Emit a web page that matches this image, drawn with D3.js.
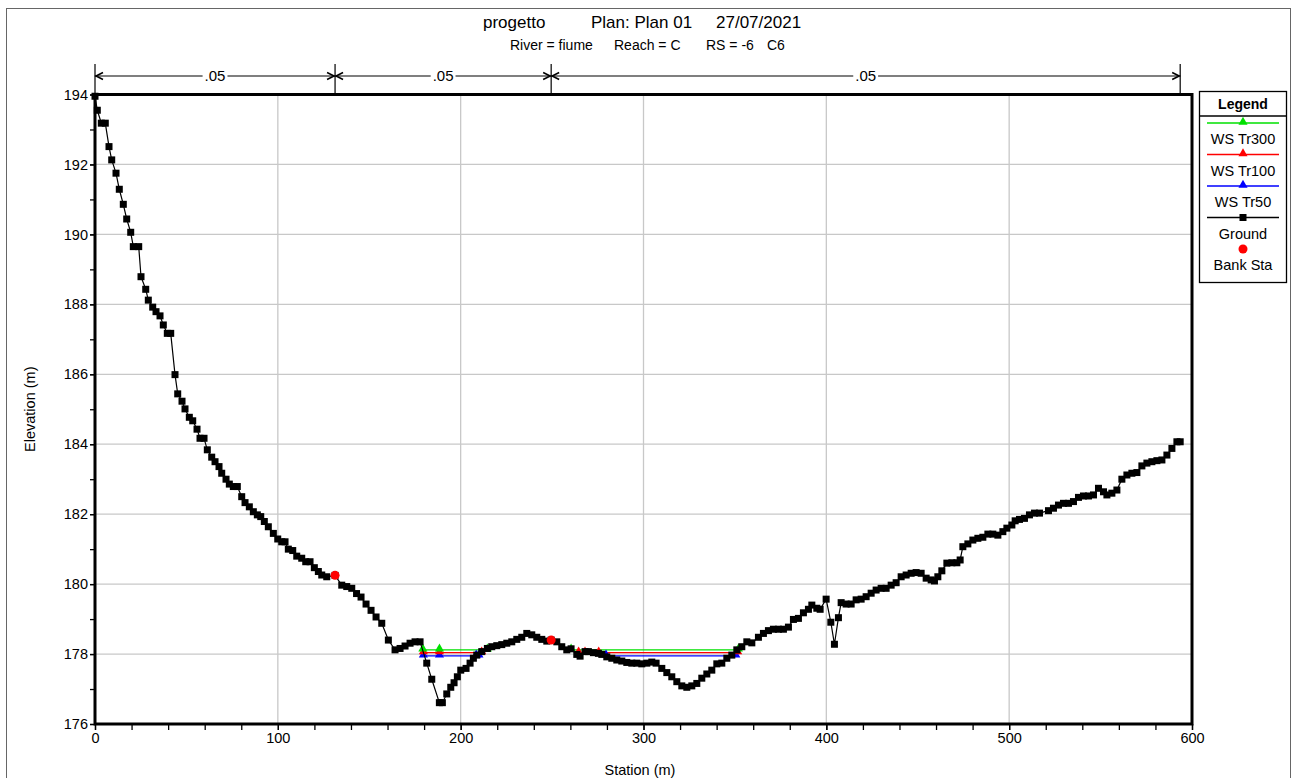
<!DOCTYPE html>
<html><head><meta charset="utf-8">
<script src="https://cdn.jsdelivr.net/npm/d3@7"></script>
<style>
body{margin:0;background:#fff}
svg{display:block}
text{font-family:"Liberation Sans",Arial,sans-serif;fill:#000}
</style>
</head><body>
<svg id="chart" width="1298" height="778"></svg>
<script>
// ---------------- DATA ----------------
const titleParts = ["progetto", "Plan: Plan 01", "27/07/2021"];
const subtitleParts = ["River = fiume", "Reach = C", "RS = -6", "C6"];
const xLabel = "Station (m)";
const yLabel = "Elevation (m)";
const xTicks = [0, 100, 200, 300, 400, 500, 600];
const yTicks = [176, 178, 180, 182, 184, 186, 188, 190, 192, 194];

const groundStation = [
  0, 1.26, 3.45, 5.63, 7.66, 9.14, 11.49, 13.29, 15.48, 17.34, 19.53, 20.95, 23.91, 25.16, 27.74, 29.16,
  31.56, 33.37, 35.56, 37.36, 39.55, 41.41,
  43.76, 45.24, 47.59, 49.23, 51.59, 53.45, 55.8, 57.44, 59.63, 61.43, 63.84, 65.65, 67.83, 69.31, 71.66,
  73.47, 75.66, 77.84, 80.25, 82.06, 84.41, 86.6, 88.79, 90.65, 92.61, 94.8, 97.54, 99.95, 102.13, 103.94,
  105.74, 108.15, 110.34, 113.07, 115.26, 117.61, 119.97, 122.16, 124.02, 126.75, 131.3, 134.96, 137.69, 140.43,
  143.05, 145.51, 148.25, 150.98, 153.72,
  156.84, 160.45, 164.11, 166.85, 169.58, 172.32, 175.05, 177.79, 181.45, 184.19, 188.35, 189.99, 192.4,
  194.58, 196.39, 198.19, 200.05, 202.95, 205.14, 206.95, 208.81, 211.54, 214.61, 217.01, 219.75, 222.48,
  225.22, 227.95, 230.69, 233.42, 236.16, 238.89, 241.63, 244.37, 247.1, 249.5, 252.57, 255.3, 258.04,
  260.39, 263.51, 265.32, 268.05, 269.86, 272.59, 275.33, 277.19, 279.92, 282.66, 285.39, 288.13, 290.86,
  293.6, 296.33, 299.07, 301.81, 304.54, 306.89, 310.01, 312.75, 315.48, 318.22, 320.95, 323.69, 326.42,
  329.16, 331.89, 334.63, 337.36, 340.1, 342.83, 345.57, 348.3, 351.04, 353.77, 356.51,
  359.25, 362.86, 365.59, 368.33, 371.06, 373.8, 376.53, 379.27, 382.0, 384.74, 387.47, 390.21, 392.07,
  394.8, 396.61, 399.89, 402.46, 404.43, 406.62, 408.1, 410.83, 413.57, 416.3, 419.04, 421.77, 424.51,
  427.24, 429.98, 432.71, 435.45, 438.18, 440.92, 443.65, 446.39, 449.12, 451.86, 454.6, 457.33, 459.14,
  460.99, 463.18, 465.92, 468.65, 471.39, 473.19, 474.67, 477.41, 480.14, 482.88, 485.61, 488.35, 491.08,
  493.82, 496.55, 498.74, 501.48, 503.28, 505.64, 508.37, 511.1, 513.84, 516.58,
  521.5, 524.23, 526.97, 529.7, 532.44, 535.17, 537.91, 540.64, 543.38, 546.12, 548.85, 551.59, 553.45,
  556.18, 558.92, 561.65, 564.39, 567.12, 569.86, 572.59, 575.33, 578.06, 580.8, 583.54, 586.27, 589.01,
  591.74, 593.54
];
const groundElevation = [
  193.95, 193.55, 193.18, 193.18, 192.51, 192.13, 191.75, 191.29, 190.86, 190.44, 190.06, 189.65, 189.65, 188.79, 188.43, 188.12,
  187.92, 187.79, 187.67, 187.41, 187.17, 187.17,
  185.99, 185.44, 185.23, 185.01, 184.77, 184.67, 184.43, 184.17, 184.17, 183.84, 183.63, 183.50, 183.36, 183.17, 183.00,
  182.86, 182.79, 182.79, 182.50, 182.33, 182.21, 182.07, 181.98, 181.93, 181.79, 181.64, 181.45, 181.29, 181.21, 181.21,
  181.00, 180.96, 180.80, 180.74, 180.64, 180.64, 180.47, 180.36, 180.26, 180.21, 180.25, 179.97, 179.93, 179.88,
  179.73, 179.63, 179.43, 179.25, 179.06,
  178.88, 178.40, 178.12, 178.16, 178.23, 178.31, 178.35, 178.35, 177.74, 177.28, 176.61, 176.61, 176.86,
  177.05, 177.18, 177.35, 177.54, 177.59, 177.74, 177.88, 177.97, 178.07, 178.16, 178.21, 178.24, 178.27,
  178.31, 178.35, 178.42, 178.48, 178.59, 178.55, 178.48, 178.42, 178.37, 178.40, 178.35, 178.21, 178.12,
  178.15, 177.99, 177.94, 178.07, 178.07, 178.04, 178.02, 177.99, 177.92, 177.88, 177.83, 177.80, 177.76,
  177.74, 177.74, 177.72, 177.74, 177.77, 177.74, 177.59, 177.47, 177.35, 177.21, 177.09, 177.05, 177.09,
  177.16, 177.31, 177.43, 177.54, 177.72, 177.74, 177.88, 177.97, 178.12, 178.21, 178.35,
  178.32, 178.48, 178.59, 178.67, 178.71, 178.71, 178.71, 178.77, 178.99, 179.02, 179.18, 179.28, 179.40,
  179.31, 179.28, 179.57, 178.91, 178.28, 179.04, 179.47, 179.43, 179.43, 179.55, 179.57, 179.64, 179.74,
  179.83, 179.88, 179.88, 179.97, 180.04, 180.21, 180.26, 180.31, 180.33, 180.31, 180.17, 180.12, 180.09,
  180.21, 180.38, 180.60, 180.61, 180.61, 180.69, 181.07, 181.15, 181.26, 181.31, 181.34, 181.43, 181.43,
  181.40, 181.50, 181.60, 181.69, 181.81, 181.85, 181.88, 181.98, 182.03, 182.03,
  182.10, 182.17, 182.26, 182.31, 182.31, 182.36, 182.48, 182.52, 182.52, 182.55, 182.74, 182.64, 182.55,
  182.60, 182.69, 183.00, 183.12, 183.17, 183.19, 183.38, 183.46, 183.50, 183.53, 183.55, 183.69, 183.88,
  184.07, 184.07
];

const bankStation = [131.3, 249.5];
const bankElevation = [180.25, 178.40];

// water surfaces: list of wetted segments (stations), one elevation each
const wsTr300Segments = [[179.3, 188.4, 214.6], [260.4, 351.9]];
const wsTr300Elevation = 178.12;
const wsTr100Segments = [[179.6, 188.4, 211.5], [264.5, 268.0, 275.5, 351.5]];
const wsTr100Elevation = 178.04;
const wsTr50Segments = [[179.6, 188.4, 208.5, 210.0], [279.5, 350.5]];
const wsTr50Elevation = 177.95;

const nStations = [0, 131.3, 249.5, 593.54];
const nValues = [".05", ".05", ".05"];

const legendNames = ["WS Tr300", "WS Tr100", "WS Tr50", "Ground", "Bank Sta"];

// ---------------- DRAWING ----------------
const svg = d3.select("#chart");
const M = {left: 95, right: 1192, top: 94.5, bottom: 724};
const x = d3.scaleLinear().domain([0, 600]).range([M.left, M.right]);
const y = d3.scaleLinear().domain([176, 194]).range([M.bottom, M.top]);
const FONT = 14.5;

// outer frame
svg.append("rect").attr("x", 6.5).attr("y", 8.5).attr("width", 1284).attr("height", 790)
  .attr("fill", "none").attr("stroke", "#666").attr("stroke-width", 1);

// titles
const titleX = [483, 591, 716];
titleParts.forEach((t, i) => svg.append("text").attr("x", titleX[i]).attr("y", 28).attr("font-size", 17).text(t));
const subX = [510, 614, 706, 767];
subtitleParts.forEach((t, i) => svg.append("text").attr("x", subX[i]).attr("y", 50).attr("font-size", 14).text(t));

// grid
const grid = svg.append("g").attr("stroke", "#c8c8c8").attr("stroke-width", 1.3);
xTicks.slice(1, -1).forEach(t => grid.append("line").attr("x1", x(t)).attr("x2", x(t)).attr("y1", M.top).attr("y2", M.bottom));
yTicks.slice(1, -1).forEach(t => grid.append("line").attr("y1", y(t)).attr("y2", y(t)).attr("x1", M.left).attr("x2", M.right));

// axes
const xAxis = d3.axisBottom(x).tickValues(xTicks).tickSize(6).tickPadding(3).tickFormat(d3.format("d"));
const xMinor = d3.axisBottom(x).tickValues(d3.range(0, 601, 20)).tickSize(6).tickFormat("");
const gx2 = svg.append("g").attr("transform", `translate(0,${M.bottom})`).call(xMinor);
const gx = svg.append("g").attr("transform", `translate(0,${M.bottom})`).call(xAxis);
const yAxis = d3.axisLeft(y).tickValues(yTicks).tickSize(5).tickPadding(2).tickFormat(d3.format("d"));
const yMinor = d3.axisLeft(y).tickValues(d3.range(176, 194.01, 1)).tickSize(5).tickFormat("");
const gy2 = svg.append("g").attr("transform", `translate(${M.left},0)`).call(yMinor);
const gy = svg.append("g").attr("transform", `translate(${M.left},0)`).call(yAxis);
[gx, gx2, gy, gy2].forEach(g => {
  g.select(".domain").remove();
  g.selectAll("line").attr("stroke", "#000").attr("stroke-width", 1.3);
  g.selectAll("text").attr("font-size", FONT).attr("font-family", "Liberation Sans, Arial, sans-serif").attr("fill", "#000");
});

// axis titles
svg.append("text").attr("x", 640).attr("y", 775).attr("text-anchor", "middle").attr("font-size", FONT).text(xLabel);
svg.append("text").attr("transform", `translate(35,${(M.top + M.bottom) / 2}) rotate(-90)`)
  .attr("text-anchor", "middle").attr("font-size", FONT).text(yLabel);

// water surfaces
const wsSeries = [
  {segs: wsTr300Segments, el: wsTr300Elevation, color: "#00e000"},
  {segs: wsTr100Segments, el: wsTr100Elevation, color: "#ff0000"},
  {segs: wsTr50Segments, el: wsTr50Elevation, color: "#0000ff"}
];
const tri = d3.symbol().type(d3.symbolTriangle).size(36);
[...wsSeries].reverse().forEach(s => {
  s.segs.forEach(seg => {
    svg.append("line").attr("x1", x(seg[0])).attr("x2", x(seg[seg.length - 1]))
      .attr("y1", y(s.el)).attr("y2", y(s.el)).attr("stroke", s.color).attr("stroke-width", 1.3);
  });
});
[...wsSeries].reverse().forEach(s => {
  s.segs.forEach(seg => {
    seg.forEach(st => svg.append("path").attr("d", tri)
      .attr("transform", `translate(${x(st)},${y(s.el) - 1})`).attr("fill", s.color));
  });
});

// ground
const groundPts = groundStation.map((s, i) => [s, groundElevation[i]]);
svg.append("path").datum(groundPts)
  .attr("d", d3.line().x(d => x(d[0])).y(d => y(d[1])))
  .attr("fill", "none").attr("stroke", "#000").attr("stroke-width", 1.2);
const SQ = 7;
svg.append("g").selectAll("rect").data(groundPts).join("rect")
  .attr("x", d => x(d[0]) - SQ / 2).attr("y", d => y(d[1]) - SQ / 2)
  .attr("width", SQ).attr("height", SQ).attr("fill", "#000");

// bank stations
svg.append("g").selectAll("circle").data(bankStation).join("circle")
  .attr("cx", d => x(d)).attr("cy", (d, i) => y(bankElevation[i])).attr("r", 4.5).attr("fill", "#ff0000");

// plot frame
svg.append("rect").attr("x", M.left).attr("y", M.top).attr("width", M.right - M.left).attr("height", M.bottom - M.top)
  .attr("fill", "none").attr("stroke", "#000").attr("stroke-width", 3);

// Manning's n bar
const nY = 76;
const nG = svg.append("g").attr("stroke", "#000").attr("stroke-width", 1.2).attr("fill", "none");
nStations.forEach(s => nG.append("line").attr("x1", x(s)).attr("x2", x(s)).attr("y1", 64).attr("y2", M.top));
nValues.forEach((v, i) => {
  const x0 = x(nStations[i]), x1 = x(nStations[i + 1]), mid = (x0 + x1) / 2;
  const t = svg.append("text").attr("x", mid).attr("y", nY + 5).attr("text-anchor", "middle").attr("font-size", 15).text(v);
  const w = t.node().getComputedTextLength();
  nG.append("line").attr("x1", x0).attr("x2", mid - w / 2 - 2).attr("y1", nY).attr("y2", nY);
  nG.append("line").attr("x1", mid + w / 2 + 2).attr("x2", x1).attr("y1", nY).attr("y2", nY);
  nG.append("path").attr("d", `M${x0 + 8},${nY - 3.5}L${x0 + 1},${nY}L${x0 + 8},${nY + 3.5}`).attr("stroke-width", 1.6);
  nG.append("path").attr("d", `M${x1 - 8},${nY - 3.5}L${x1 - 1},${nY}L${x1 - 8},${nY + 3.5}`).attr("stroke-width", 1.6);
});

// legend
const L = {x: 1199, y: 91, w: 87, h: 191};
const lg = svg.append("g");
lg.append("rect").attr("x", L.x + 0.5).attr("y", L.y + 0.5).attr("width", L.w).attr("height", L.h)
  .attr("fill", "#fff").attr("stroke", "#000").attr("stroke-width", 1.3);
lg.append("line").attr("x1", L.x).attr("x2", L.x + L.w + 1).attr("y1", L.y + 25).attr("y2", L.y + 25).attr("stroke", "#000").attr("stroke-width", 1.3);
const cx = L.x + L.w / 2 + 0.5;
lg.append("text").attr("x", cx).attr("y", L.y + 18).attr("text-anchor", "middle").attr("font-size", 14).attr("font-weight", "bold").text("Legend");
const itemColors = ["#00e000", "#ff0000", "#0000ff", "#000", "#ff0000"];
legendNames.forEach((name, i) => {
  const ly = L.y + 32 + i * 31.5;
  const col = itemColors[i];
  if (i < 4) {
    lg.append("line").attr("x1", L.x + 8).attr("x2", L.x + L.w - 7).attr("y1", ly).attr("y2", ly).attr("stroke", col).attr("stroke-width", 1.3);
  }
  if (i < 3) lg.append("path").attr("d", tri).attr("transform", `translate(${cx},${ly - 1})`).attr("fill", col);
  else if (i === 3) lg.append("rect").attr("x", cx - SQ / 2).attr("y", ly - SQ / 2).attr("width", SQ).attr("height", SQ).attr("fill", "#000");
  else lg.append("circle").attr("cx", cx).attr("cy", ly).attr("r", 4.5).attr("fill", "#ff0000");
  lg.append("text").attr("x", cx).attr("y", ly + 21).attr("text-anchor", "middle").attr("font-size", FONT).text(name);
});
</script>
</body></html>
